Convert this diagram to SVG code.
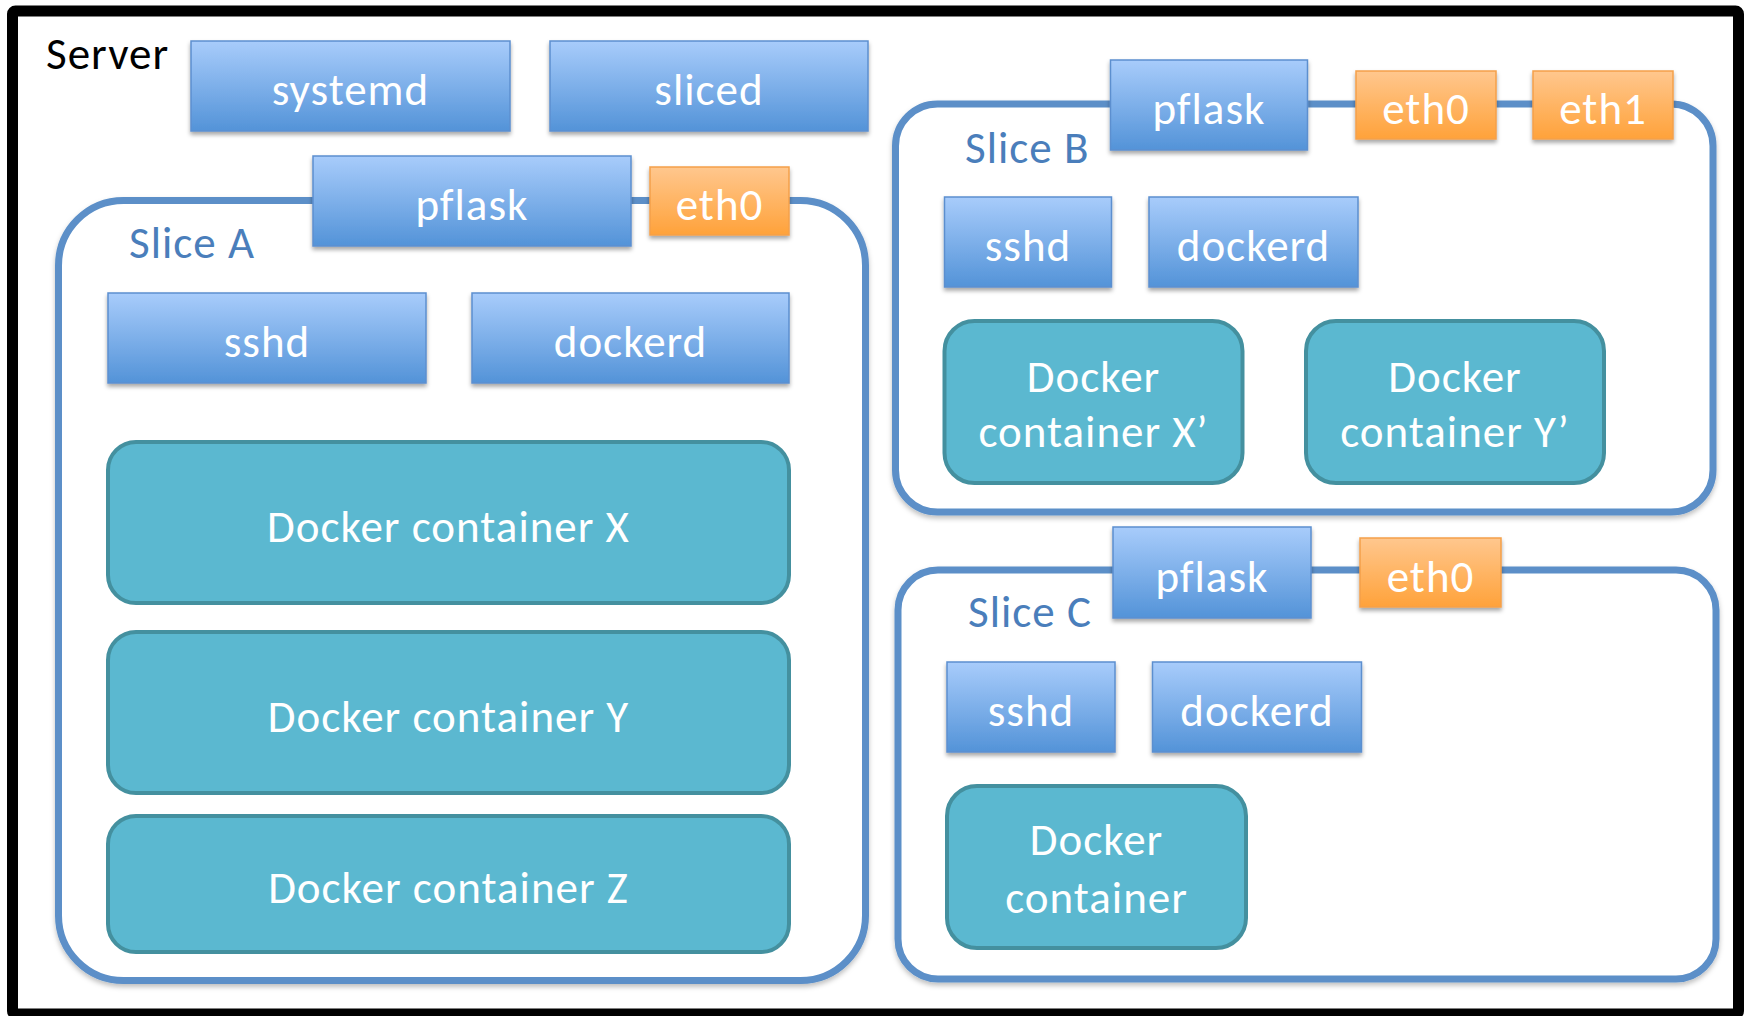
<svg xmlns="http://www.w3.org/2000/svg" width="1745" height="1016" viewBox="0 0 1745 1016">
<style>
text{font-family:Carlito,Lato,"Open Sans",sans-serif;letter-spacing:1px;}
.lbl{fill:#ffffff;font-size:45px;text-anchor:middle;}
.slice-lbl{fill:#4a7ebb;font-size:45px;}
.slice{fill:#ffffff;stroke:#5b8fc8;stroke-width:7;filter:url(#sh2);}
.proc{fill:url(#gBlue);stroke:#5c8fcf;stroke-width:1.5;filter:url(#sh);}
.eth{fill:url(#gOrange);stroke:#f5a04a;stroke-width:1.5;filter:url(#sh);}
.ctr{fill:#5bb8d0;stroke:#44909f;stroke-width:4;}
</style>
<defs>
<linearGradient id="gBlue" x1="0" y1="0" x2="0" y2="1">
<stop offset="0" stop-color="#a8ccfb"/>
<stop offset="1" stop-color="#5393d8"/>
</linearGradient>
<linearGradient id="gOrange" x1="0" y1="0" x2="0" y2="1">
<stop offset="0" stop-color="#ffc78e"/>
<stop offset="1" stop-color="#ffa23a"/>
</linearGradient>
<filter id="sh" x="-10%" y="-10%" width="120%" height="140%">
<feDropShadow dx="0" dy="3" stdDeviation="2" flood-color="#000" flood-opacity="0.35"/>
</filter>
<filter id="sh2" x="-5%" y="-5%" width="110%" height="110%">
<feDropShadow dx="0" dy="3" stdDeviation="2.5" flood-color="#000" flood-opacity="0.25"/>
</filter>
</defs>
<rect x="0" y="0" width="1745" height="1016" fill="#ffffff"/>
<g id="server">
<rect x="12.5" y="11" width="1726" height="1003" rx="3" fill="#ffffff" stroke="#000000" stroke-width="11"/>
<text x="46" y="69" font-size="45" fill="#000000">Server</text>
</g>
<g id="connectors"></g>
<g id="systemd"><rect class="proc" x="191" y="41" width="319" height="90"/><text class="lbl" x="350.5" y="105">systemd</text></g>
<g id="sliced"><rect class="proc" x="550" y="41" width="318" height="90"/><text class="lbl" x="709" y="105">sliced</text></g>

<g id="sliceA">
<rect class="slice" x="58.5" y="200.5" width="807" height="780" rx="65"/>
<text class="slice-lbl" x="129" y="258">Slice A</text>
</g>
<g id="pflaskA"><rect class="proc" x="313" y="156" width="318" height="90"/><text class="lbl" x="472" y="220">pflask</text></g>
<g id="eth0A"><rect class="eth" x="650" y="167" width="139" height="68"/><text class="lbl" x="719.5" y="220">eth0</text></g>
<g id="sshdA"><rect class="proc" x="108" y="293" width="318" height="90"/><text class="lbl" x="267" y="357">sshd</text></g>
<g id="dockerdA"><rect class="proc" x="472" y="293" width="317" height="90"/><text class="lbl" x="630.5" y="357">dockerd</text></g>
<g id="containerX"><rect class="ctr" x="108" y="442" width="681" height="161" rx="28"/><text class="lbl" x="448.5" y="541.5">Docker container X</text></g>
<g id="containerY"><rect class="ctr" x="108" y="632" width="681" height="161" rx="28"/><text class="lbl" x="448.5" y="732">Docker container Y</text></g>
<g id="containerZ"><rect class="ctr" x="108" y="816" width="681" height="136" rx="28"/><text class="lbl" x="448.5" y="903">Docker container Z</text></g>

<g id="sliceB">
<rect class="slice" x="895.5" y="104" width="817.5" height="408" rx="42"/>
<text class="slice-lbl" x="965" y="163">Slice B</text>
</g>
<g id="pflaskB"><rect class="proc" x="1110.5" y="60" width="197" height="90"/><text class="lbl" x="1209" y="124">pflask</text></g>
<g id="eth0B"><rect class="eth" x="1356" y="71" width="140" height="68"/><text class="lbl" x="1426" y="124">eth0</text></g>
<g id="eth1B"><rect class="eth" x="1533" y="71" width="140" height="68"/><text class="lbl" x="1603" y="124">eth1</text></g>
<g id="sshdB"><rect class="proc" x="944.5" y="197" width="167" height="90"/><text class="lbl" x="1028" y="261">sshd</text></g>
<g id="dockerdB"><rect class="proc" x="1149" y="197" width="209" height="90"/><text class="lbl" x="1253.5" y="261">dockerd</text></g>
<g id="containerXp"><rect class="ctr" x="944.5" y="321" width="298" height="162" rx="30"/><text class="lbl" x="1093.5" y="392">Docker</text><text class="lbl" x="1093.5" y="447">container X’</text></g>
<g id="containerYp"><rect class="ctr" x="1306" y="321" width="298" height="162" rx="30"/><text class="lbl" x="1455" y="392">Docker</text><text class="lbl" x="1455" y="447">container Y’</text></g>

<g id="sliceC">
<rect class="slice" x="898" y="570" width="818" height="409" rx="40"/>
<text class="slice-lbl" x="968" y="627">Slice C</text>
</g>
<g id="pflaskC"><rect class="proc" x="1113" y="527" width="198" height="91"/><text class="lbl" x="1212" y="591.5">pflask</text></g>
<g id="eth0C"><rect class="eth" x="1360" y="538" width="141" height="69"/><text class="lbl" x="1430.5" y="591.5">eth0</text></g>
<g id="sshdC"><rect class="proc" x="947" y="662" width="168" height="90"/><text class="lbl" x="1031" y="726">sshd</text></g>
<g id="dockerdC"><rect class="proc" x="1152.5" y="662" width="209" height="90"/><text class="lbl" x="1257" y="726">dockerd</text></g>
<g id="containerC"><rect class="ctr" x="947" y="786" width="299" height="162" rx="30"/><text class="lbl" x="1096.5" y="855">Docker</text><text class="lbl" x="1096.5" y="913">container</text></g>
</svg>
